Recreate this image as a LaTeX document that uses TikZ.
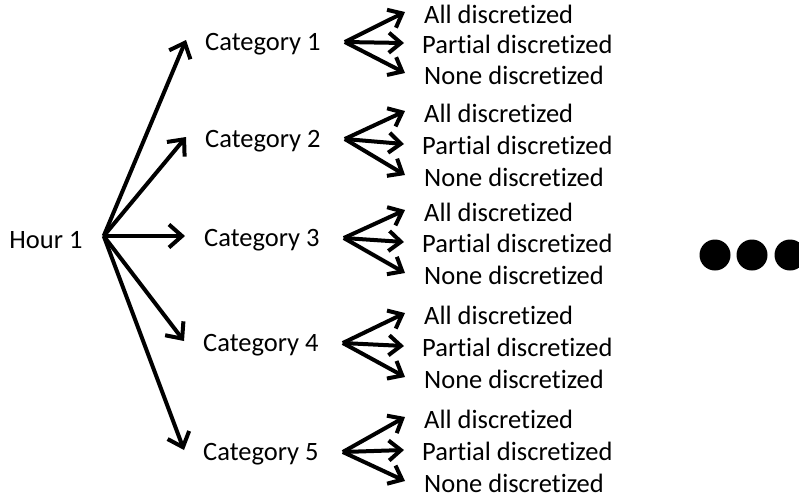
\documentclass[tikz,border=0pt]{standalone}
\usepackage{fontspec}
\setmainfont{Carlito}[Ligatures=NoCommon]
\usetikzlibrary{positioning, arrows.meta}

\begin{document}
\begin{tikzpicture}[
  x=1pt, y=-1pt,
  lbl/.style={inner sep=0pt, text height=17pt, text depth=0pt,
              font=\fontsize{26.5}{30}\selectfont},
  arr/.style={-{Straight Barb[length=13pt, width=23pt]}, line width=4pt},
  sub/.style={-{Straight Barb[length=12pt, width=20pt]}, line width=4pt}
]
  \useasboundingbox (0,0) rectangle (799,499);

  \node[lbl] (hour) at (46,240) {Hour 1};
  \node[lbl, anchor=west] (cat1) at (205,42) {Category 1};
  \node[lbl, anchor=west] (cat2) at (205,139) {Category 2};
  \node[lbl, anchor=west] (cat3) at (204,238) {Category 3};
  \node[lbl, anchor=west] (cat4) at (203,343) {Category 4};
  \node[lbl, anchor=west] (cat5) at (203,452) {Category 5};

  \foreach \i in {1,...,5}
    \draw[arr] ([xshift=21pt, yshift=4pt]hour.east) -- ([xshift=-19pt, yshift=2pt]cat\i.west);

  % three outcomes per category
  \foreach \i/\ya/\yp/\yn in {1/15/45/76, 2/114/146/178, 3/213/244/276,
                              4/316/348/380, 5/420/452/484} {
    \node[lbl, anchor=west] (all\i) at (424,\ya) {All discretized};
    \node[lbl, anchor=west] (part\i) at (422,\yp) {Partial discretized};
    \node[lbl, anchor=west] (none\i) at (424,\yn) {None discretized};
    \draw[sub] ([xshift=24pt]cat\i.east) -- ([xshift=-19pt, yshift=3pt]all\i.west);
    \draw[sub] ([xshift=24pt]cat\i.east) -- ([xshift=-18pt, yshift=2pt]part\i.west);
    \draw[sub] ([xshift=24pt]cat\i.east) -- ([xshift=-19pt, yshift=3pt]none\i.west);
  }

  % more hours
  \foreach \x in {715,752,790}
    \fill (\x,255) circle (15.5);
\end{tikzpicture}
\end{document}
